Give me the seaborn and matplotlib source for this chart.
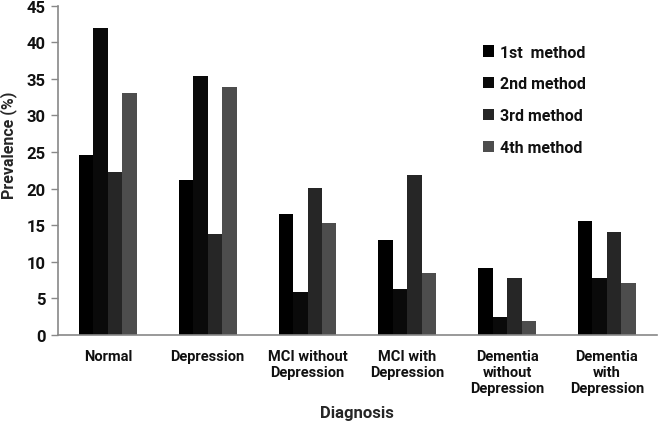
import pandas as pd
import matplotlib
matplotlib.use("Agg")
import matplotlib.pyplot as plt
import seaborn as sns

# data
diagnoses = ["Normal", "Depression", "MCI without\nDepression", "MCI with\nDepression",
             "Dementia\nwithout\nDepression", "Dementia\nwith\nDepression"]
methods = ["1st  method", "2nd method", "3rd method", "4th method"]
first = [24.6, 21.2, 16.5, 12.9, 9.2, 15.5]
second = [42.0, 35.4, 5.8, 6.3, 2.4, 7.8]
third = [22.3, 13.8, 20.1, 21.9, 7.8, 14.0]
fourth = [33.0, 33.9, 15.3, 8.5, 1.9, 7.1]
colors = ["#000000", "#0a0a0a", "#262626", "#4d4d4d"]

rows = []
for m, vals in zip(methods, [first, second, third, fourth]):
    for d, v in zip(diagnoses, vals):
        rows.append({"Diagnosis": d, "Method": m, "Prevalence": v})
df = pd.DataFrame(rows)

sns.set_theme(style="white")
plt.rcParams['font.family'] = ['Roboto', 'DejaVu Sans']
plt.rcParams['text.color'] = '#111111'

fig, ax = plt.subplots(figsize=(6.6, 4.39), dpi=100)
fig.subplots_adjust(left=0.088, right=0.995, top=0.985, bottom=0.235)

sns.barplot(data=df, x="Diagnosis", y="Prevalence", hue="Method",
            palette=colors, width=0.58, saturation=1, ax=ax, linewidth=0)

ax.set_ylim(0, 45)
ax.set_yticks(range(0, 46, 5))
ax.set_xlim(-0.5, 5.5)
ax.set_xlabel("Diagnosis", fontsize=12, fontweight="bold", labelpad=7)
ax.set_ylabel("Prevalence (%)", fontsize=11.5, fontweight="bold")
ax.yaxis.set_label_coords(-0.068, 0.58)
ax.tick_params(axis="y", labelsize=12, length=5, width=1, color="#888888", left=True, pad=4,
               labelcolor="#111111")
ax.tick_params(axis="x", labelsize=10.5, length=0, pad=10, labelcolor="#111111")
for lbl in ax.get_yticklabels() + ax.get_xticklabels():
    lbl.set_fontweight("bold")

for s in ["top", "right"]:
    ax.spines[s].set_visible(False)
for s in ["left", "bottom"]:
    ax.spines[s].set_color("#888888")
    ax.spines[s].set_linewidth(1.2)

leg = ax.legend(loc="upper left", bbox_to_anchor=(0.685, 0.925), frameon=False,
                fontsize=11.5, labelspacing=1.05, handlelength=0.7, handleheight=0.7,
                handletextpad=0.4)
for t in leg.get_texts():
    t.set_fontweight("bold")

plt.savefig("out.png", dpi=100)
plt.close()
